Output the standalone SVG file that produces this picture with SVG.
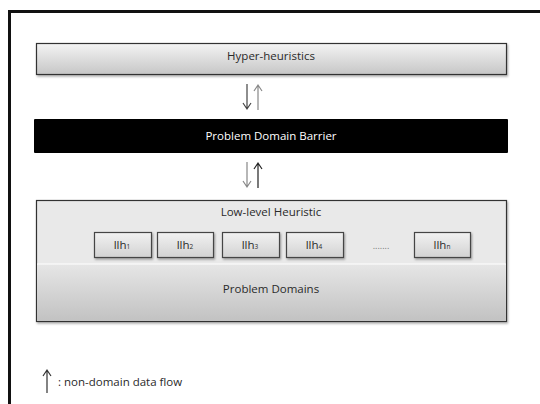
<svg xmlns="http://www.w3.org/2000/svg" width="540" height="404" viewBox="0 0 540 404">
<defs>
<linearGradient id="g1" x1="0" y1="0" x2="0" y2="1">
<stop offset="0" stop-color="#f4f4f4"/><stop offset="1" stop-color="#c6c6c6"/>
</linearGradient>
<linearGradient id="g2" x1="0" y1="0" x2="0" y2="1">
<stop offset="0" stop-color="#f2f2f2"/><stop offset="1" stop-color="#d2d2d2"/>
</linearGradient>
<linearGradient id="g3" x1="0" y1="0" x2="0" y2="1">
<stop offset="0" stop-color="#e6e6e6"/><stop offset="1" stop-color="#c2c2c2"/>
</linearGradient>
<filter id="sh" x="-5%" y="-5%" width="110%" height="120%">
<feDropShadow dx="1" dy="1.5" stdDeviation="1" flood-color="#000" flood-opacity="0.35"/>
</filter>
</defs>
<style>
text{font-family:"Open Sans","Noto Sans","Liberation Sans",sans-serif;fill:#2a2a2a;text-anchor:middle}
.t{font-size:11.5px}
.box{stroke:#333;stroke-width:1.2}
.llh{fill:url(#g2);stroke:#444;stroke-width:1.2}
.arr{fill:none;stroke-width:1.2}
</style>
<rect width="540" height="404" fill="#fff"/>
<path d="M9.5 404 V11.5 H540" fill="none" stroke="#111" stroke-width="3"/>
<g id="hyper">
<rect class="box" x="36.5" y="43.5" width="470" height="31" fill="url(#g1)" filter="url(#sh)"/>
<text class="t" x="271" y="60">Hyper-heuristics</text>
</g>
<g id="barrier">
<rect x="34" y="119" width="474" height="34" rx="1" fill="#000"/>
<text class="t" x="271" y="140" style="fill:#fff">Problem Domain Barrier</text>
</g>
<g id="lowlevel">
<rect class="box" x="36.5" y="200.5" width="470" height="121" fill="#e9e9e9" filter="url(#sh)"/>
<rect x="37" y="264" width="469" height="57" fill="url(#g3)"/>
<line x1="37" y1="264" x2="506" y2="264" stroke="#fff" stroke-width="1"/>
<text class="t" x="271" y="216">Low-level Heuristic</text>
</g>
<g id="llh1"><rect class="llh" x="94.5" y="232.5" width="57" height="25" filter="url(#sh)"/><text class="t" x="122" y="249">llh<tspan font-size="6.5">1</tspan></text></g>
<g id="llh2"><rect class="llh" x="157.5" y="232.5" width="56" height="25" filter="url(#sh)"/><text class="t" x="185" y="249">llh<tspan font-size="6.5">2</tspan></text></g>
<g id="llh3"><rect class="llh" x="222.5" y="232.5" width="57" height="25" filter="url(#sh)"/><text class="t" x="250" y="249">llh<tspan font-size="6.5">3</tspan></text></g>
<g id="llh4"><rect class="llh" x="286.5" y="232.5" width="57" height="25" filter="url(#sh)"/><text class="t" x="314" y="249">llh<tspan font-size="6.5">4</tspan></text></g>
<g id="dots"><text class="t" x="381" y="249" style="fill:#777;font-size:9px">.......</text></g>
<g id="llhn"><rect class="llh" x="414.5" y="232.5" width="56" height="25" filter="url(#sh)"/><text class="t" x="442" y="249">llh<tspan font-size="6.5">n</tspan></text></g>
<g id="domains"><text class="t" x="271" y="293">Problem Domains</text></g>
<g id="connectors">
<path class="arr" d="M247 84 V109 M243 103 L247 109 L251 103" stroke="#444"/>
<path class="arr" d="M258 110 V85 M254 91 L258 85 L262 91" stroke="#888"/>
<path class="arr" d="M247 162 V187 M243 181 L247 187 L251 181" stroke="#888"/>
<path class="arr" d="M258 188 V163 M254 169 L258 163 L262 169" stroke="#222"/>
</g>
<g id="legend">
<path class="arr" d="M47 393 V370 M43 376 L47 370 L51 376" stroke="#333"/>
<text x="58" y="386" style="font-size:11.5px;text-anchor:start">: non-domain data flow</text>
</g>
</svg>
